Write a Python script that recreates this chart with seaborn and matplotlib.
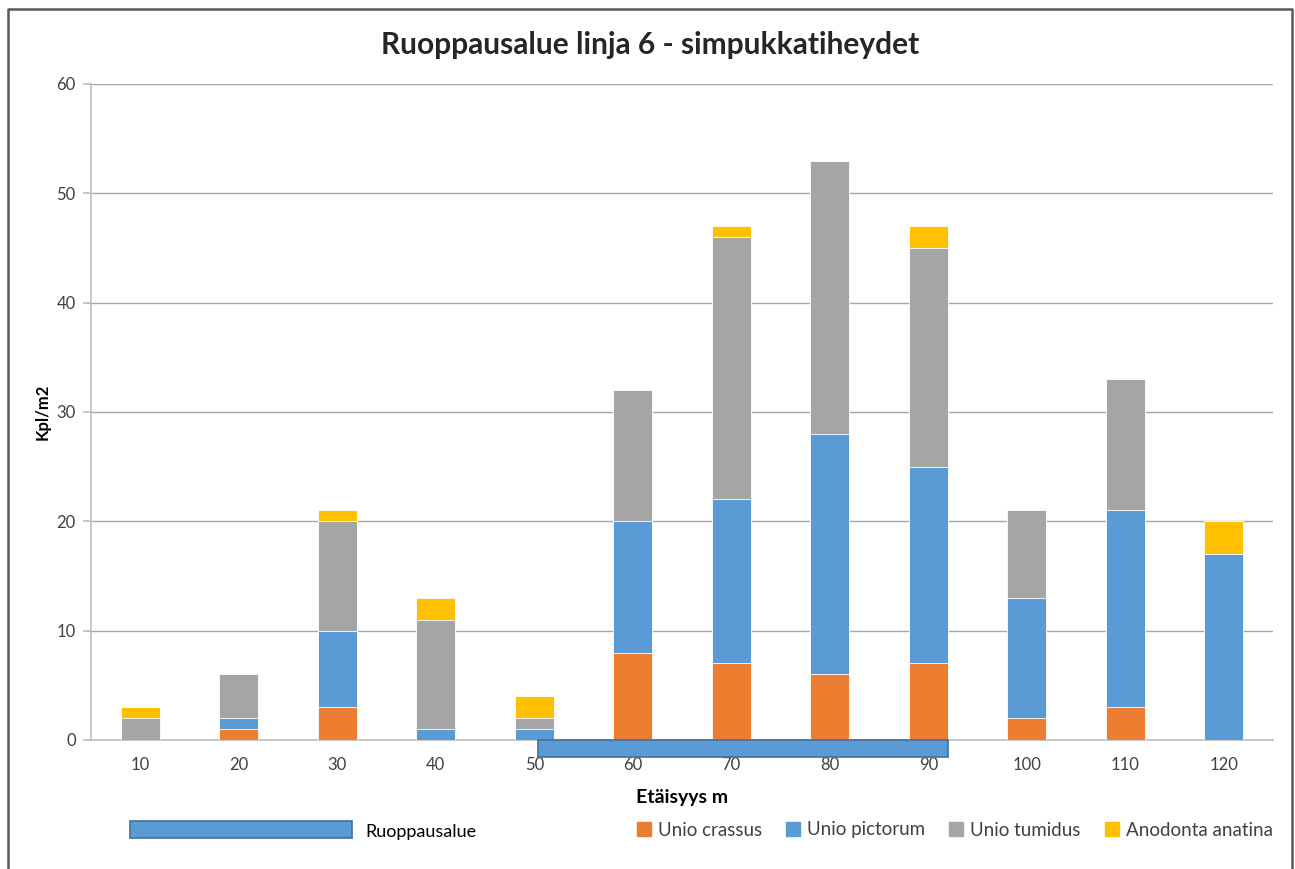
import matplotlib
matplotlib.use("Agg")
import matplotlib.pyplot as plt
from matplotlib.patches import Rectangle
from matplotlib.lines import Line2D
import seaborn as sns
import pandas as pd
import numpy as np

distances = ["10", "20", "30", "40", "50", "60", "70", "80", "90", "100", "110", "120"]
unio_crassus = [0, 1, 3, 0, 0, 8, 7, 6, 7, 2, 3, 0]
unio_pictorum = [0, 1, 7, 1, 1, 12, 15, 22, 18, 11, 18, 17]
unio_tumidus = [2, 4, 10, 10, 1, 12, 24, 25, 20, 8, 12, 0]
anodonta_anatina = [1, 0, 1, 2, 2, 0, 1, 0, 2, 0, 0, 3]

species = ["Unio crassus", "Unio pictorum", "Unio tumidus", "Anodonta anatina"]
colors = ["#ED7D31", "#5B9BD5", "#A5A5A5", "#FFC000"]

# dredging zone along the transect (category positions)
dredge_start, dredge_end = 4.04, 8.2

sns.set_theme(style="white")
plt.rcParams["font.family"] = ["Lato", "DejaVu Sans"]

fig = plt.figure(figsize=(12.95, 8.69), dpi=100)
ax = fig.add_axes([91 / 1295, 1 - 740 / 869, (1273 - 91) / 1295, (740 - 84) / 869])

df = pd.DataFrame({
    "dist": distances,
    "Unio crassus": unio_crassus,
    "Unio pictorum": unio_pictorum,
    "Unio tumidus": unio_tumidus,
    "Anodonta anatina": anodonta_anatina,
})
cum = df[species].cumsum(axis=1)

# stacked bars: draw cumulative totals from the top layer down
for sp, col in reversed(list(zip(species, colors))):
    sns.barplot(x=df["dist"], y=cum[sp], order=distances, color=col,
                width=0.4, ax=ax, edgecolor="white", linewidth=0.6,
                saturation=1, zorder=3)

ax.set_xlim(-0.5, 11.5)
ax.set_ylim(0, 60)
ax.set_yticks(np.arange(0, 61, 10))
ax.yaxis.grid(True, color="#A6A6A6", linewidth=1.0, zorder=0)
ax.set_axisbelow(True)
for s in ["top", "right"]:
    ax.spines[s].set_visible(False)
ax.spines["left"].set_color("#BFBFBF")
ax.spines["bottom"].set_color("#BFBFBF")
ax.spines["left"].set_linewidth(1.2)
ax.spines["bottom"].set_linewidth(1.2)
ax.tick_params(axis="y", left=True, length=6, color="#BFBFBF", labelsize=12,
               labelcolor="#404040", pad=5)
ax.tick_params(axis="x", bottom=False, labelsize=12, labelcolor="#404040", pad=6)

ax.set_xlabel("Etäisyys m", fontsize=14, fontweight="bold", color="black", labelpad=12)
ax.set_ylabel("Kpl/m2", fontsize=12, fontweight="bold", color="black", labelpad=4)

# dredging zone bar under the x axis
ax.add_patch(Rectangle((dredge_start, 0), dredge_end - dredge_start, -1.55,
                       facecolor="#5B9BD5", edgecolor="#41719C", linewidth=1.2,
                       clip_on=False, zorder=5))

fig.suptitle("Ruoppausalue linja 6 - simpukkatiheydet", x=650 / 1295,
             y=1 - 45 / 869, va="center", fontsize=21.5, fontweight="bold")

# outer chart frame
fig.add_artist(Line2D([8 / 1295, 8 / 1295, 1292 / 1295, 1292 / 1295],
                      [0, 1 - 9 / 869, 1 - 9 / 869, 0],
                      transform=fig.transFigure, color="#595959", linewidth=1.8))

# dredging zone legend entry
fig.add_artist(Rectangle((130 / 1295, 1 - 838 / 869), 222 / 1295, 17 / 869,
                         transform=fig.transFigure, facecolor="#5B9BD5",
                         edgecolor="#41719C", linewidth=1.2))
fig.text(365 / 1295, 1 - 832 / 869, "Ruoppausalue", fontsize=13, va="center",
         color="black")

handles = [Line2D([], [], marker="s", linestyle="", markersize=10,
                  markerfacecolor=c, markeredgecolor=c) for c in colors]
fig.legend(handles, species, loc="center right", ncol=4,
           bbox_to_anchor=(1286 / 1295, 1 - 830 / 869), frameon=False,
           fontsize=13.5, handletextpad=0.4, columnspacing=1.3, handlelength=0.7,
           labelcolor="#404040", borderpad=0.2)

fig.savefig("out.png", dpi=100, facecolor="white")
